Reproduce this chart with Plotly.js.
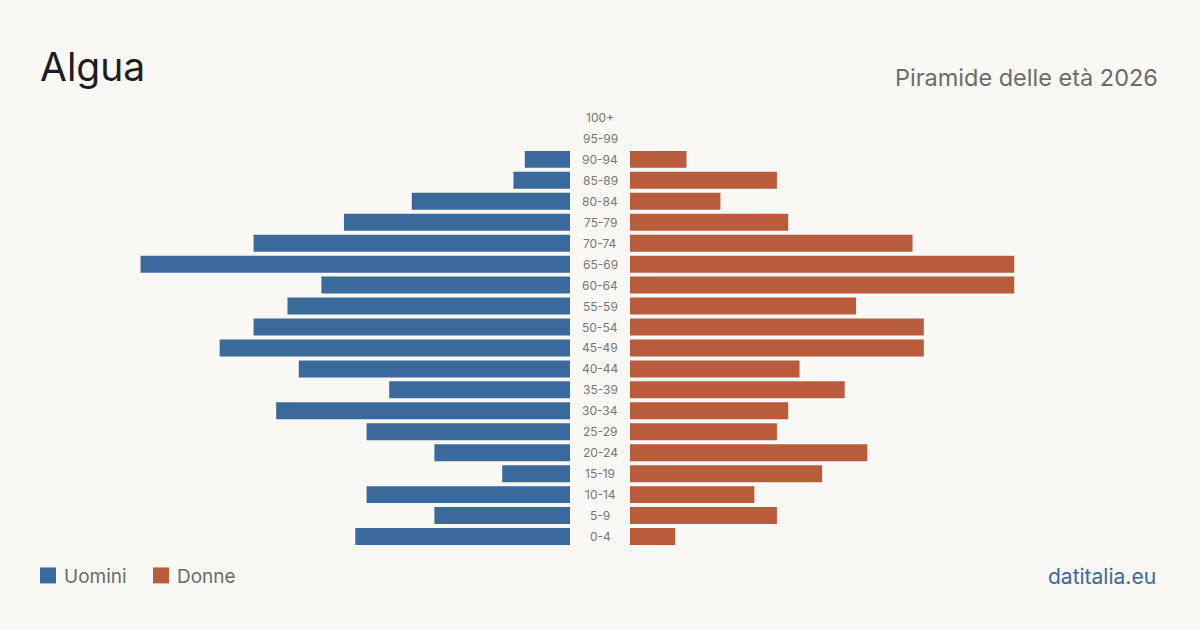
<!DOCTYPE html>
<html>
<head>
<meta charset="utf-8">
<script src="https://cdn.plot.ly/plotly-3.0.1.min.js"></script>
<style>
  html, body { margin: 0; padding: 0; background: #f9f8f4; }
  #chart { width: 1200px; height: 630px; }
</style>
</head>
<body>
<div id="chart"></div>
<script>
// Age groups, youngest first (bottom of the pyramid)
const ageGroups = ["0-4","5-9","10-14","15-19","20-24","25-29","30-34","35-39","40-44","45-49",
                   "50-54","55-59","60-64","65-69","70-74","75-79","80-84","85-89","90-94","95-99","100+"];
const men   = [19, 12, 18, 6, 12, 18, 26, 16, 24, 31, 28, 25, 22, 38, 28, 20, 14, 5, 4, 0, 0];
const women = [4, 13, 11, 17, 21, 13, 14, 19, 15, 26, 26, 20, 34, 34, 25, 14, 8, 13, 5, 0, 0];
const seriesNames = ["Uomini", "Donne"];
const placeName = "Algua";
const subtitle = "Piramide delle età 2026";
const source = "datitalia.eu";

const BLUE = "#3a6a9b";
const ORANGE = "#b95c3c";
const BG = "#f9f8f4";
const FONT = "Inter, 'Noto Sans', sans-serif";

const W = 1200, H = 630;
const axisMax = 46.9;

const traces = [
  { type: "bar", orientation: "h", name: seriesNames[0], y: ageGroups, x: men,
    xaxis: "x", yaxis: "y", marker: { color: BLUE }, hoverinfo: "x+y" },
  { type: "bar", orientation: "h", name: seriesNames[1], y: ageGroups, x: women,
    xaxis: "x2", yaxis: "y", marker: { color: ORANGE }, hoverinfo: "x+y" }
];

// Plot area in pixels, used to place page-level text in paper coordinates
const plotL = 40, plotW = 1120, plotT = 106.5, plotH = 441;
const px = x => (x - plotL) / plotW;
const py = y => (plotT + plotH - y) / plotH;

// Age labels in the central gap
const ageLabels = ageGroups.map(g => ({
  text: g, xref: "paper", x: 0.5, yref: "y", y: g, showarrow: false,
  xanchor: "center", yanchor: "middle",
  font: { family: FONT, size: 12, color: "#777" }
}));

const pageText = [
  { text: placeName, xref: "paper", yref: "paper", x: px(38), y: py(66), xanchor: "left", yanchor: "middle",
    showarrow: false, font: { family: FONT, size: 39, color: "#1e1e1e" } },
  { text: subtitle, xref: "paper", yref: "paper", x: px(1160), y: py(77), xanchor: "right", yanchor: "middle",
    showarrow: false, font: { family: FONT, size: 23.5, color: "#6b6b6b" } },
  { text: seriesNames[0], xref: "paper", yref: "paper", x: px(62), y: py(577), xanchor: "left", yanchor: "middle",
    showarrow: false, font: { family: FONT, size: 19, color: "#6b6b6b" } },
  { text: seriesNames[1], xref: "paper", yref: "paper", x: px(175), y: py(577), xanchor: "left", yanchor: "middle",
    showarrow: false, font: { family: FONT, size: 19, color: "#6b6b6b" } },
  { text: source, xref: "paper", yref: "paper", x: px(1158), y: py(577), xanchor: "right", yanchor: "middle",
    showarrow: false, font: { family: FONT, size: 21, color: BLUE } }
];

// Legend swatches
const legendSwatches = [
  { type: "rect", xref: "paper", yref: "paper", x0: px(40), x1: px(56), y0: py(584), y1: py(568),
    line: { width: 0 }, fillcolor: BLUE },
  { type: "rect", xref: "paper", yref: "paper", x0: px(153), x1: px(169), y0: py(584), y1: py(568),
    line: { width: 0 }, fillcolor: ORANGE }
];

const layout = {
  width: W, height: H,
  paper_bgcolor: BG, plot_bgcolor: BG,
  margin: { l: 40, r: 40, t: 106.5, b: 82.5, pad: 0 },
  showlegend: false,
  bargap: 0.19,
  font: { family: FONT },
  xaxis:  { domain: [0, 530 / 1120], range: [axisMax, 0], visible: false, fixedrange: true },
  xaxis2: { domain: [590 / 1120, 1], range: [0, axisMax], visible: false, fixedrange: true },
  yaxis:  { type: "category", categoryarray: ageGroups, range: [-0.5, ageGroups.length - 0.5],
            visible: false, fixedrange: true },
  shapes: legendSwatches,
  annotations: ageLabels.concat(pageText)
};

Plotly.newPlot("chart", traces, layout, { displayModeBar: false, staticPlot: true });
</script>
</body>
</html>
